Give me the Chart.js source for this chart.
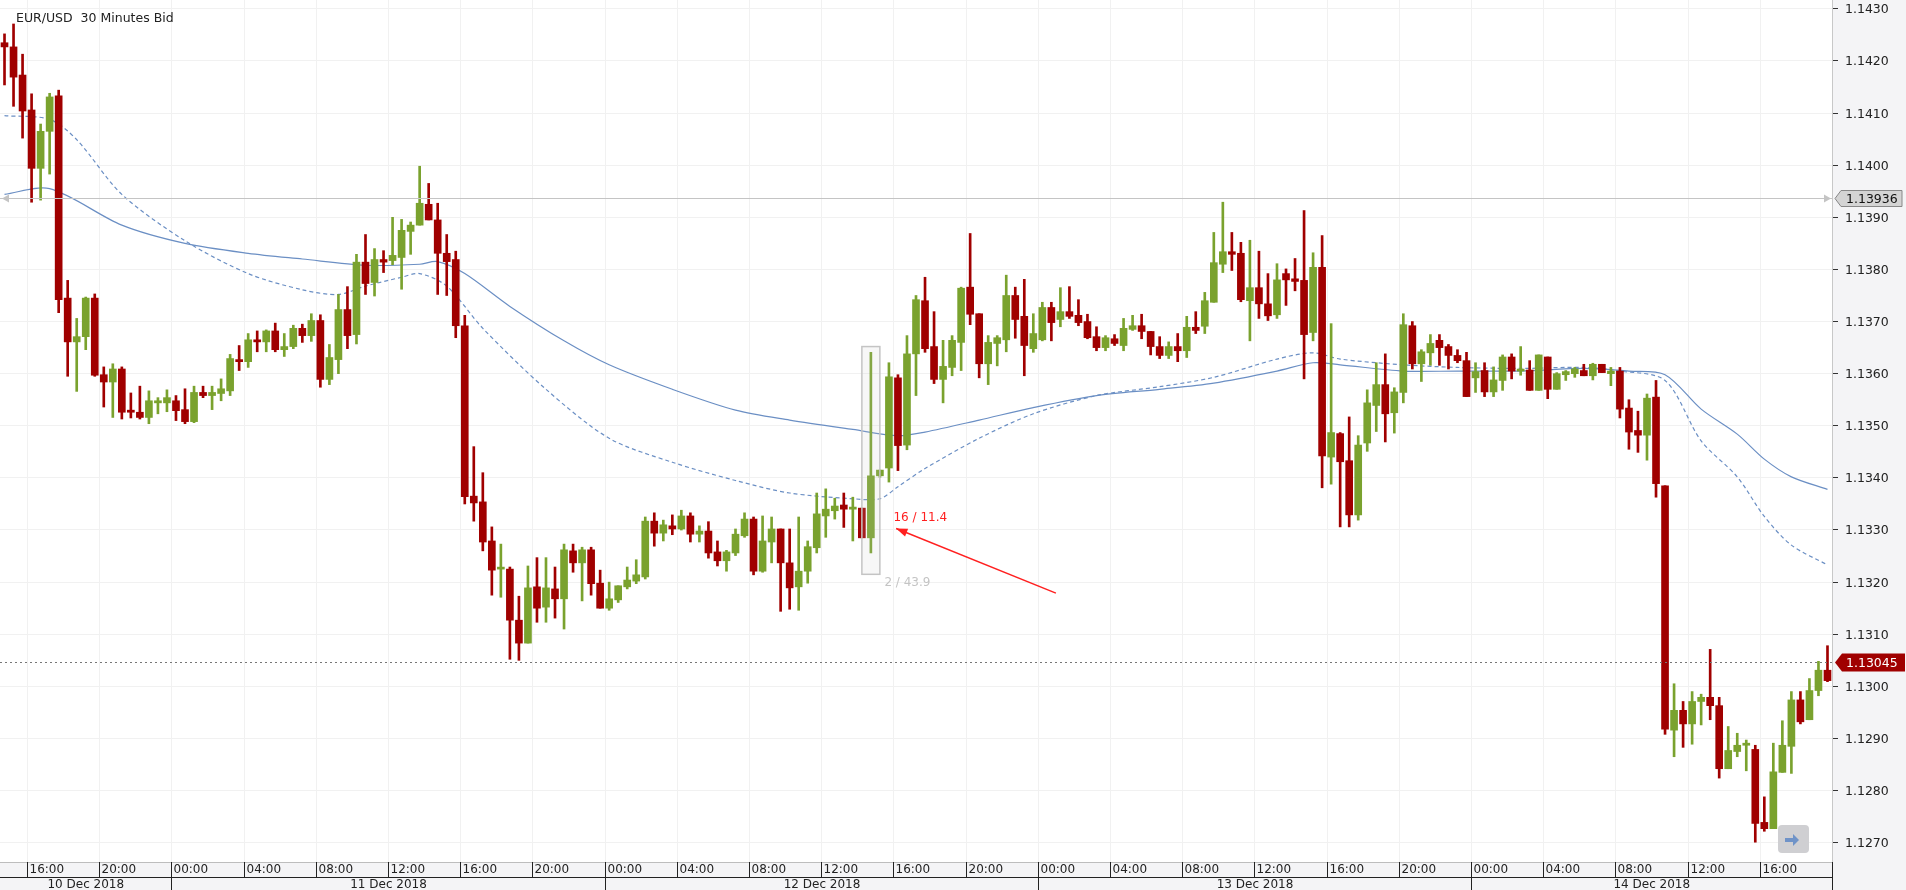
<!DOCTYPE html>
<html>
<head>
<meta charset="utf-8">
<script src="https://cdn.jsdelivr.net/npm/chart.js@4.4.0/dist/chart.umd.min.js"></script>
<style>
body{margin:0;background:#fff;}
#wrap{width:1906px;height:890px;position:relative;}
</style>
</head>
<body>
<div id="wrap"><canvas id="c"></canvas></div>
<script>
// EUR/USD 30 min candles, 10 Dec 2018 14:30 -> 14 Dec 2018 19:30
const startTime = Date.UTC(2018,11,10,14,30);
const opens=[1.14234,1.14226,1.14172,1.14105,1.13993,1.14064,1.14132,1.13744,1.13660,1.13670,1.13744,1.13597,1.13583,1.13608,1.13529,1.13525,1.13515,1.13543,1.13543,1.13547,
1.13530,1.13507,1.13563,1.13557,1.13561,1.13566,1.13626,1.13622,1.13664,1.13660,1.13681,1.13645,1.13651,1.13686,1.13672,1.13701,1.13588,1.13626,1.13722,1.13674,
1.13813,1.13774,1.13818,1.13816,1.13822,1.13872,1.13884,1.13924,1.13894,1.13830,1.13818,1.13691,1.13364,1.13353,1.13278,1.13224,1.13224,1.13126,1.13082,1.13190,
1.13151,1.13186,1.13167,1.13259,1.13236,1.13261,1.13197,1.13149,1.13165,1.13190,1.13201,1.13209,1.13316,1.13293,1.13307,1.13301,1.13326,1.13291,1.13297,1.13257,
1.13240,1.13255,1.13288,1.13320,1.13220,1.13276,1.13301,1.13236,1.13190,1.13220,1.13265,1.13326,1.13336,1.13347,1.13339,1.13341,1.13284,1.13403,1.13418,1.13591,
1.13462,1.13637,1.13739,1.13651,1.13588,1.13611,1.13659,1.13765,1.13714,1.13618,1.13657,1.13664,1.13749,1.13709,1.13647,1.13664,1.13726,1.13703,1.13718,1.13711,
1.13699,1.13670,1.13649,1.13666,1.13653,1.13684,1.13691,1.13680,1.13651,1.13634,1.13651,1.13643,1.13688,1.13690,1.13736,1.13809,1.13833,1.13830,1.13739,1.13764,
1.13733,1.13712,1.13791,1.13781,1.13778,1.13678,1.13803,1.13439,1.13484,1.13432,1.13328,1.13466,1.13538,1.13578,1.13524,1.13563,1.13691,1.13618,1.13639,1.13663,
1.13651,1.13634,1.13624,1.13591,1.13605,1.13564,1.13586,1.13631,1.13604,1.13606,1.13567,1.13631,1.13569,1.13597,1.13599,1.13605,1.13595,1.13617,1.13599,1.13604,
1.13533,1.13490,1.13481,1.13554,1.13384,1.12915,1.12953,1.12927,1.12970,1.12978,1.12962,1.12841,1.12874,1.12886,1.12878,1.12738,1.12726,1.12834,1.12884,1.12973,
1.12935,1.12991,1.13030];
const highs=[1.14251,1.14270,1.14212,1.14136,1.14078,1.14137,1.14143,1.13778,1.13705,1.13746,1.13752,1.13612,1.13618,1.13612,1.13562,1.13575,1.13566,1.13553,1.13568,1.13557,
1.13570,1.13575,1.13575,1.13575,1.13589,1.13636,1.13653,1.13676,1.13681,1.13683,1.13696,1.13676,1.13692,1.13694,1.13714,1.13712,1.13655,1.13751,1.13766,1.13828,
1.13866,1.13839,1.13835,1.13899,1.13895,1.13890,1.13997,1.13964,1.13926,1.13866,1.13834,1.13711,1.13459,1.13409,1.13305,1.13272,1.13228,1.13172,1.13230,1.13246,
1.13246,1.13228,1.13272,1.13272,1.13266,1.13266,1.13222,1.13199,1.13192,1.13228,1.13242,1.13324,1.13332,1.13318,1.13328,1.13337,1.13332,1.13307,1.13315,1.13278,
1.13260,1.13301,1.13332,1.13324,1.13326,1.13324,1.13301,1.13301,1.13324,1.13278,1.13370,1.13378,1.13360,1.13370,1.13362,1.13341,1.13640,1.13414,1.13620,1.13597,
1.13672,1.13749,1.13784,1.13718,1.13663,1.13672,1.13765,1.13868,1.13714,1.13672,1.13672,1.13788,1.13765,1.13780,1.13714,1.13736,1.13736,1.13764,1.13766,1.13741,
1.13713,1.13689,1.13672,1.13674,1.13705,1.13711,1.13713,1.13680,1.13670,1.13660,1.13676,1.13709,1.13718,1.13755,1.13870,1.13928,1.13870,1.13851,1.13855,1.13834,
1.13791,1.13810,1.13800,1.13820,1.13912,1.13831,1.13864,1.13695,1.13486,1.13516,1.13480,1.13568,1.13620,1.13637,1.13572,1.13714,1.13699,1.13645,1.13674,1.13674,
1.13655,1.13645,1.13640,1.13620,1.13620,1.13612,1.13635,1.13637,1.13651,1.13624,1.13635,1.13631,1.13601,1.13605,1.13611,1.13617,1.13619,1.13617,1.13611,1.13611,
1.13549,1.13527,1.13560,1.13586,1.13384,1.13004,1.12970,1.12989,1.12984,1.13070,1.12978,1.12922,1.12909,1.12896,1.12886,1.12787,1.12890,1.12933,1.12989,1.12989,
1.13014,1.13047,1.13077];
const lows=[1.14153,1.14112,1.14051,1.13928,1.13932,1.13982,1.13716,1.13594,1.13565,1.13645,1.13594,1.13535,1.13515,1.13512,1.13514,1.13512,1.13503,1.13522,1.13526,1.13509,
1.13503,1.13505,1.13553,1.13530,1.13547,1.13557,1.13605,1.13611,1.13641,1.13641,1.13641,1.13632,1.13647,1.13659,1.13661,1.13573,1.13578,1.13599,1.13647,1.13656,
1.13751,1.13748,1.13793,1.13808,1.13761,1.13828,1.13884,1.13894,1.13751,1.13749,1.13668,1.13349,1.13316,1.13259,1.13174,1.13170,1.13051,1.13049,1.13082,1.13122,
1.13122,1.13130,1.13109,1.13218,1.13163,1.13174,1.13149,1.13145,1.13160,1.13186,1.13196,1.13205,1.13268,1.13278,1.13290,1.13299,1.13276,1.13276,1.13245,1.13230,
1.13220,1.13250,1.13285,1.13213,1.13218,1.13236,1.13143,1.13147,1.13145,1.13197,1.13255,1.13285,1.13320,1.13304,1.13278,1.13284,1.13255,1.13400,1.13391,1.13413,
1.13453,1.13557,1.13640,1.13580,1.13543,1.13595,1.13605,1.13693,1.13591,1.13578,1.13614,1.13641,1.13667,1.13595,1.13640,1.13662,1.13662,1.13689,1.13705,1.13691,
1.13666,1.13643,1.13643,1.13653,1.13643,1.13682,1.13666,1.13635,1.13628,1.13628,1.13622,1.13630,1.13676,1.13676,1.13736,1.13793,1.13797,1.13737,1.13662,1.13705,
1.13701,1.13705,1.13730,1.13758,1.13589,1.13662,1.13380,1.13387,1.13305,1.13305,1.13318,1.13450,1.13488,1.13468,1.13485,1.13543,1.13608,1.13584,1.13615,1.13615,
1.13608,1.13620,1.13555,1.13563,1.13555,1.13555,1.13567,1.13589,1.13596,1.13567,1.13567,1.13551,1.13569,1.13586,1.13592,1.13595,1.13587,1.13601,1.13576,1.13514,
1.13454,1.13448,1.13433,1.13362,1.12907,1.12864,1.12882,1.12888,1.12925,1.12935,1.12823,1.12841,1.12864,1.12837,1.12700,1.12721,1.12726,1.12834,1.12832,1.12927,
1.12935,1.12981,1.13008];
const closes=[1.14226,1.14168,1.14103,1.13993,1.14064,1.14130,1.13741,1.13660,1.13670,1.13744,1.13596,1.13583,1.13608,1.13525,1.13525,1.13515,1.13547,1.13547,1.13553,1.13528,
1.13507,1.13563,1.13557,1.13563,1.13570,1.13628,1.13622,1.13664,1.13660,1.13681,1.13645,1.13651,1.13686,1.13672,1.13701,1.13588,1.13630,1.13722,1.13672,1.13813,
1.13772,1.13818,1.13813,1.13826,1.13874,1.13884,1.13926,1.13894,1.13830,1.13814,1.13691,1.13363,1.13351,1.13276,1.13222,1.13226,1.13126,1.13082,1.13188,1.13149,
1.13188,1.13167,1.13261,1.13236,1.13261,1.13196,1.13149,1.13167,1.13192,1.13203,1.13213,1.13316,1.13293,1.13309,1.13301,1.13326,1.13291,1.13297,1.13255,1.13240,
1.13257,1.13291,1.13320,1.13220,1.13278,1.13301,1.13236,1.13188,1.13220,1.13267,1.13330,1.13339,1.13345,1.13339,1.13343,1.13284,1.13403,1.13414,1.13593,1.13461,
1.13637,1.13741,1.13647,1.13588,1.13613,1.13663,1.13763,1.13713,1.13618,1.13659,1.13668,1.13749,1.13703,1.13653,1.13676,1.13726,1.13697,1.13718,1.13709,1.13697,
1.13668,1.13649,1.13668,1.13657,1.13686,1.13691,1.13680,1.13651,1.13634,1.13651,1.13643,1.13688,1.13682,1.13739,1.13812,1.13833,1.13828,1.13741,1.13764,1.13733,
1.13710,1.13779,1.13779,1.13776,1.13674,1.13803,1.13441,1.13486,1.13430,1.13328,1.13462,1.13543,1.13578,1.13522,1.13564,1.13693,1.13618,1.13641,1.13657,1.13649,
1.13634,1.13624,1.13555,1.13603,1.13564,1.13587,1.13631,1.13604,1.13606,1.13567,1.13635,1.13569,1.13599,1.13603,1.13608,1.13595,1.13617,1.13601,1.13604,1.13531,
1.13487,1.13481,1.13552,1.13388,1.12917,1.12953,1.12927,1.12970,1.12978,1.12962,1.12841,1.12876,1.12886,1.12890,1.12736,1.12726,1.12835,1.12886,1.12973,1.12931,
1.12991,1.13030,1.13010];

// moving averages as [candle index, value]
const maSlow=[[0,1.13943],[5,1.13954],[13,1.13884],[20,1.13849],[27,1.13830],[33,1.13819],[40,1.13807],[46,1.13809],[48,1.13814],[51,1.13791],[56,1.13728],
[62,1.13662],[67,1.13616],[74,1.13569],[81,1.13529],[87,1.13510],[94,1.13492],[99,1.13480],[102,1.13487],[108,1.13510],[114,1.13534],[121,1.13557],
[128,1.13569],[134,1.13581],[141,1.13604],[145,1.13620],[148,1.13616],[155,1.13604],[161,1.13604],[168,1.13604],[175,1.13609],[180,1.13604],
[184,1.13597],[188,1.13531],[192,1.13483],[195,1.13435],[198,1.13401],[202,1.13377]];
const maFast=[[0,1.14094],[5,1.14087],[8,1.14048],[13,1.13943],[20,1.13854],[27,1.13791],[33,1.13760],[37,1.13751],[40,1.13767],[44,1.13784],[46,1.13791],
[49,1.13767],[53,1.13686],[60,1.13569],[67,1.13475],[74,1.13429],[81,1.13394],[87,1.13370],[94,1.13359],[97,1.13359],[99,1.13382],[102,1.13417],
[108,1.13475],[114,1.13522],[121,1.13557],[128,1.13574],[134,1.13592],[141,1.13627],[145,1.13639],[148,1.13627],[155,1.13616],[161,1.13611],
[168,1.13609],[175,1.13611],[179,1.13604],[184,1.13586],[188,1.13470],[192,1.13401],[195,1.13325],[198,1.13270],[202,1.13232]];

const yTicks=[1.1270,1.1280,1.1290,1.1300,1.1310,1.1320,1.1330,1.1340,1.1350,1.1360,1.1370,1.1380,1.1390,1.1400,1.1410,1.1420,1.1430];
const refLevel=1.13936, lastPrice=1.13045;

const UP='#7aa22e', DOWN='#a00000';
const labels=opens.map((o,i)=>new Date(startTime+i*1800000));
const cats=labels.map(d=>d.toISOString());
const cols=opens.map((o,i)=>closes[i]>=o?UP:DOWN);
const MONTHS=['Jan','Feb','Mar','Apr','May','Jun','Jul','Aug','Sep','Oct','Nov','Dec'];
const pad=n=>String(n).padStart(2,'0');

const overlay={
id:'overlay',
beforeDraw(ch){
  const {ctx,chartArea:a,width,height}=ch;
  ctx.save();
  ctx.fillStyle='#f4f4f6';
  ctx.fillRect(a.right,0,width-a.right,height);
  ctx.fillRect(0,a.bottom,width,height-a.bottom);
  const xs=ch.scales.x, half=(xs.getPixelForValue(1)-xs.getPixelForValue(0))/2;
  ctx.strokeStyle='#f1f1f1';ctx.lineWidth=1;
  labels.forEach((d,i)=>{
    if(d.getUTCMinutes()===0&&d.getUTCHours()%4===0){
      const x=Math.round(xs.getPixelForValue(i)-half)+0.5;
      ctx.beginPath();ctx.moveTo(x,a.top);ctx.lineTo(x,a.bottom);ctx.stroke();
    }
  });
  ctx.restore();
},
afterDraw(ch){
  const {ctx,chartArea:a,width,height}=ch;
  const xs=ch.scales.x, ys=ch.scales.y;
  const half=(xs.getPixelForValue(1)-xs.getPixelForValue(0))/2;
  ctx.save();
  // price labels
  ctx.font='12.5px "DejaVu Sans"';ctx.fillStyle='#222';ctx.textBaseline='middle';ctx.textAlign='left';
  ctx.strokeStyle='#333';ctx.lineWidth=1;
  yTicks.forEach(v=>{
    const y=Math.round(ys.getPixelForValue(v))+0.5;
    ctx.beginPath();ctx.moveTo(a.right,y);ctx.lineTo(a.right+6,y);ctx.stroke();
    ctx.fillText(v.toFixed(4),a.right+13,y+1);
  });
  ctx.strokeStyle='#c8c8c8';
  ctx.beginPath();ctx.moveTo(a.right+0.5,0);ctx.lineTo(a.right+0.5,a.bottom);ctx.stroke();
  // bottom axis
  ctx.font='12px "DejaVu Sans"';
  ctx.strokeStyle='#bdbdbd';
  ctx.beginPath();ctx.moveTo(0,a.bottom+0.5);ctx.lineTo(a.right,a.bottom+0.5);ctx.stroke();
  const row=a.bottom+15;
  ctx.strokeStyle='#222';
  ctx.beginPath();ctx.moveTo(0,row+0.5);ctx.lineTo(a.right,row+0.5);ctx.stroke();
  const dayEdges=[0];
  labels.forEach((d,i)=>{
    if(d.getUTCMinutes()!==0||d.getUTCHours()%4!==0) return;
    const x=Math.round(xs.getPixelForValue(i)-half)+0.5;
    ctx.beginPath();ctx.moveTo(x,a.bottom);ctx.lineTo(x,row);ctx.stroke();
    ctx.textAlign='left';
    ctx.fillText(pad(d.getUTCHours())+':00',x+2,a.bottom+8);
    if(d.getUTCHours()===0){
      dayEdges.push(x);
      ctx.beginPath();ctx.moveTo(x,row);ctx.lineTo(x,height);ctx.stroke();
    }
  });
  dayEdges.push(a.right);
  ctx.textAlign='center';
  for(let k=0;k<dayEdges.length-1;k++){
    const d=new Date(Date.UTC(2018,11,10+k));
    ctx.fillText(d.getUTCDate()+' '+MONTHS[d.getUTCMonth()]+' '+d.getUTCFullYear(),(dayEdges[k]+dayEdges[k+1])/2,row+8);
  }
  ctx.beginPath();ctx.moveTo(a.right+0.5,a.bottom);ctx.lineTo(a.right+0.5,height);ctx.stroke();

  // reference level line
  let y=Math.round(ys.getPixelForValue(refLevel))+0.5;
  ctx.strokeStyle='#c4c4c4';ctx.lineWidth=1.2;
  ctx.beginPath();ctx.moveTo(0,y);ctx.lineTo(a.right,y);ctx.stroke();
  ctx.fillStyle='#c4c4c4';
  ctx.beginPath();ctx.moveTo(2,y);ctx.lineTo(9,y-4);ctx.lineTo(9,y+4);ctx.fill();
  ctx.beginPath();ctx.moveTo(a.right-1,y);ctx.lineTo(a.right-8,y-4);ctx.lineTo(a.right-8,y+4);ctx.fill();
  ctx.fillStyle='#d4d4d4';ctx.strokeStyle='#888';ctx.lineWidth=1;
  ctx.beginPath();ctx.moveTo(a.right+3,y);ctx.lineTo(a.right+9,y-8);ctx.lineTo(width-4,y-8);ctx.lineTo(width-4,y+8);ctx.lineTo(a.right+9,y+8);ctx.closePath();ctx.fill();ctx.stroke();
  ctx.fillStyle='#111';ctx.textAlign='left';ctx.font='12.5px "DejaVu Sans"';
  ctx.fillText(refLevel.toFixed(5),a.right+14,y+1);

  // last price
  y=Math.round(ys.getPixelForValue(lastPrice))+0.5;
  ctx.strokeStyle='#777';ctx.setLineDash([2,3]);
  ctx.beginPath();ctx.moveTo(0,y);ctx.lineTo(a.right,y);ctx.stroke();ctx.setLineDash([]);
  ctx.fillStyle=DOWN;
  ctx.beginPath();ctx.moveTo(a.right+3,y);ctx.lineTo(a.right+10,y-9);ctx.lineTo(width-1,y-9);ctx.lineTo(width-1,y+9);ctx.lineTo(a.right+10,y+9);ctx.closePath();ctx.fill();
  ctx.fillStyle='#fff';ctx.fillText(lastPrice.toFixed(5),a.right+14,y+1);

  // highlighted candle box and labels
  const bx=xs.getPixelForValue(96);
  const t=ys.getPixelForValue(1.13651), b=ys.getPixelForValue(1.13214);
  ctx.fillStyle='rgba(200,200,200,0.15)';ctx.strokeStyle='#c4c4c4';ctx.lineWidth=1.5;
  ctx.fillRect(bx-9,t,18,b-t);ctx.strokeRect(bx-9,t,18,b-t);
  ctx.font='12px "DejaVu Sans"';ctx.textAlign='left';
  ctx.fillStyle='#ff2020';ctx.fillText('16 / 11.4',xs.getPixelForValue(98.5),ys.getPixelForValue(1.13322));
  ctx.fillStyle='#c4c4c4';ctx.fillText('2 / 43.9',xs.getPixelForValue(97.5),ys.getPixelForValue(1.13198));
  const x1=xs.getPixelForValue(116.5), y1=ys.getPixelForValue(1.13178);
  const x2=xs.getPixelForValue(98.8), y2=ys.getPixelForValue(1.13302);
  ctx.strokeStyle='#ff2020';ctx.fillStyle='#ff2020';ctx.lineWidth=1.5;
  ctx.beginPath();ctx.moveTo(x1,y1);ctx.lineTo(x2,y2);ctx.stroke();
  const ang=Math.atan2(y2-y1,x2-x1);
  ctx.beginPath();ctx.moveTo(x2,y2);
  ctx.lineTo(x2-12*Math.cos(ang-0.35),y2-12*Math.sin(ang-0.35));
  ctx.lineTo(x2-12*Math.cos(ang+0.35),y2-12*Math.sin(ang+0.35));ctx.fill();

  // title
  ctx.fillStyle='#222';ctx.font='12.5px "DejaVu Sans"';ctx.textAlign='left';
  ctx.fillText('EUR/USD  30 Minutes Bid',16,19);

  // scroll button
  ctx.fillStyle='#cfcfd2';
  ctx.beginPath();ctx.roundRect(a.right-54,a.bottom-37,31,28,4);ctx.fill();
  ctx.fillStyle='#6f93c8';
  ctx.fillRect(a.right-47,a.bottom-24,8,4);
  ctx.beginPath();ctx.moveTo(a.right-39,a.bottom-28);ctx.lineTo(a.right-33,a.bottom-22);ctx.lineTo(a.right-39,a.bottom-16);ctx.fill();
  ctx.restore();
}
};

new Chart(document.getElementById('c'),{
type:'bar',
data:{
labels:cats,
datasets:[
{type:'line',label:'slow',data:maSlow.map(p=>({x:cats[p[0]],y:p[1]})),borderColor:'#6b8fc4',borderWidth:1.2,pointRadius:0,tension:0.3,spanGaps:true,order:3},
{type:'line',label:'fast',data:maFast.map(p=>({x:cats[p[0]],y:p[1]})),borderColor:'#6b8fc4',borderWidth:1.2,borderDash:[4,3],pointRadius:0,tension:0.3,spanGaps:true,order:3},
{label:'wick',data:lows.map((l,i)=>[l,highs[i]]),backgroundColor:cols,barThickness:2,grouped:false,order:2},
{label:'body',data:opens.map((o,i)=>[o,closes[i]]),backgroundColor:cols,barThickness:7,minBarLength:2,grouped:false,order:1}
]},
options:{
responsive:true,maintainAspectRatio:false,animation:false,
layout:{padding:{top:0,bottom:28,right:74}},
plugins:{legend:{display:false},tooltip:{enabled:false}},
scales:{
x:{display:false,offset:true},
y:{display:false,min:1.12662,max:1.14316,
 afterBuildTicks(s){s.ticks=yTicks.map(v=>({value:v}));}}
}
},
plugins:[overlay,{
 id:'hgrid',
 beforeDatasetsDraw(ch){
  const {ctx,chartArea:a}=ch, ys=ch.scales.y;
  ctx.save();ctx.strokeStyle='#f1f1f1';ctx.lineWidth=1;
  yTicks.forEach(v=>{const y=Math.round(ys.getPixelForValue(v))+0.5;ctx.beginPath();ctx.moveTo(a.left,y);ctx.lineTo(a.right,y);ctx.stroke();});
  ctx.restore();
 }}]
});
</script>
</body>
</html>
